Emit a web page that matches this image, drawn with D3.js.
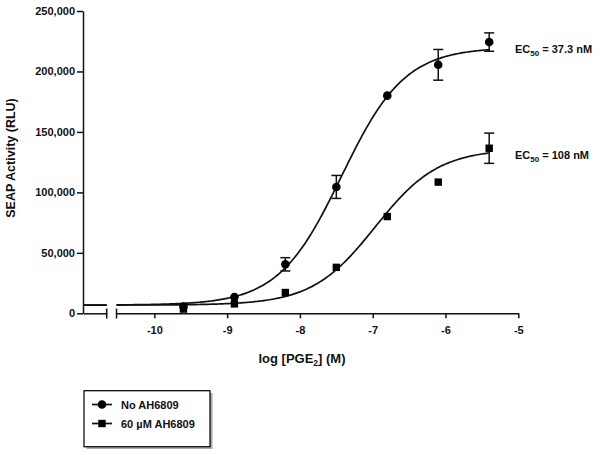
<!DOCTYPE html>
<html>
<head>
<meta charset="utf-8">
<script src="https://cdn.jsdelivr.net/npm/d3@7"></script>
<style>
  body { margin: 0; background: #fff; }
  text { font-family: "Liberation Sans", Arial, sans-serif; font-weight: bold; fill: #111; }
</style>
</head>
<body>
<div id="graph"></div>
<script>
// measured points (log M) and mean SEAP activity
const logDose = [-9.6, -8.9, -8.2, -7.5, -6.8, -6.1, -5.4];
const noAH = [5500, 13500, 40500, 104500, 180000, 205500, 224300];
const noAHErr = [0, 0, 5500, 9500, 0, 12700, 7600];
const withAH = [3500, 7800, 17200, 38000, 80000, 108500, 136500];
const withAHErr = [0, 0, 0, 0, 0, 0, 12500];

// fit parameters (sigmoidal dose-response)
const seriesNames = ["No AH6809", "60 \u00b5M AH6809"];
const fitBottom = [6800, 6800];
const fitTop = [220000, 136000];
const ec50nM = [37.3, 108];
const hillSlope = [1, 1];

const yTicks = [0, 50000, 100000, 150000, 200000, 250000];
const xTicks = [-10, -9, -8, -7, -6, -5];

const width = 600, height = 455;

const svg = d3.select("#graph")
    .append("svg")
        .attr("width", width)
        .attr("height", height);

const x = d3.scaleLinear().domain([-10.52, -5]).range([116.5, 518.3]);
// short stub left of the axis break
const xStub = d3.scaleLinear().domain([-12.3, -11.9]).range([83, 106.7]);
const y = d3.scaleLinear().domain([0, 250000]).range([313.3, 11]);

// y axis
const yAxis = svg.append("g")
    .attr("transform", "translate(83,0)")
    .call(d3.axisLeft(y).tickValues(yTicks).tickFormat(d3.format(",")).tickSize(6).tickSizeOuter(0));
yAxis.selectAll("text").attr("font-size", 11).attr("x", -8).attr("fill", "#111");

// x axis (main part)
const xAxis = svg.append("g")
    .attr("transform", "translate(0,313.3)")
    .call(d3.axisBottom(x).tickValues(xTicks).tickFormat(d => String(d)).tickSize(5).tickSizeOuter(0));
xAxis.selectAll("text").attr("font-size", 11).attr("y", 13).attr("fill", "#111");

// x axis stub
svg.append("g")
    .attr("transform", "translate(0,313.3)")
    .call(d3.axisBottom(xStub).tickValues([]).tickSizeOuter(0));

// break ticks
const breakX = [xStub.range()[1], x.range()[0]];
svg.selectAll(".brk").data(breakX).enter().append("line")
    .attr("x1", d => d).attr("x2", d => d)
    .attr("y1", 308.5).attr("y2", 318.5)
    .attr("stroke", "#111").attr("stroke-width", 1.5);

svg.selectAll(".domain, .tick line").attr("stroke", "#111").attr("stroke-width", 1.5);

// axis titles
const xt = svg.append("text").attr("x", 302).attr("y", 362.5).attr("text-anchor", "middle").attr("font-size", 13);
xt.append("tspan").text("log [PGE");
xt.append("tspan").attr("font-size", 8.5).attr("dy", 3).text("2");
xt.append("tspan").attr("dy", -3).text("] (M)");

svg.append("text")
    .attr("transform", "translate(15,158) rotate(-90)")
    .attr("text-anchor", "middle")
    .attr("font-size", 12.5)
    .text("SEAP Activity (RLU)");

// fitted curves
const logistic = (i, lx) => fitBottom[i] + (fitTop[i] - fitBottom[i]) /
    (1 + Math.pow(10, (Math.log10(ec50nM[i] * 1e-9) - lx) * hillSlope[i]));

const line = d3.line().x(d => d[0]).y(d => d[1]);
const mainGrid = d3.range(x.domain()[0], -5.4 + 1e-6, 0.02);
const stubGrid = d3.range(xStub.domain()[0], xStub.domain()[1] + 1e-6, 0.05);

[0, 1].forEach(i => {
    svg.append("path")
        .attr("d", line(mainGrid.map(lx => [x(lx), y(logistic(i, lx))])))
        .attr("fill", "none").attr("stroke", "#111").attr("stroke-width", 1.7);
    svg.append("path")
        .attr("d", line(stubGrid.map(lx => [xStub(lx), y(logistic(i, lx))])))
        .attr("fill", "none").attr("stroke", "#111").attr("stroke-width", 1.7);
});

// error bars + markers
function drawSeries(vals, errs, shape) {
    const g = svg.append("g");
    const data = logDose.map((d, i) => ({ x: d, v: vals[i], e: errs[i] }));
    const eb = g.selectAll(".eb").data(data.filter(d => d.e > 0)).enter().append("g")
        .attr("stroke", "#111").attr("stroke-width", 1.5);
    eb.append("line").attr("x1", d => x(d.x)).attr("x2", d => x(d.x))
        .attr("y1", d => y(d.v - d.e)).attr("y2", d => y(d.v + d.e));
    eb.append("line").attr("x1", d => x(d.x) - 5).attr("x2", d => x(d.x) + 5)
        .attr("y1", d => y(d.v - d.e)).attr("y2", d => y(d.v - d.e));
    eb.append("line").attr("x1", d => x(d.x) - 5).attr("x2", d => x(d.x) + 5)
        .attr("y1", d => y(d.v + d.e)).attr("y2", d => y(d.v + d.e));
    if (shape === "circle") {
        g.selectAll("circle").data(data).enter().append("circle")
            .attr("cx", d => x(d.x)).attr("cy", d => y(d.v)).attr("r", 4.3).attr("fill", "#000");
    } else {
        g.selectAll("rect").data(data).enter().append("rect")
            .attr("x", d => x(d.x) - 3.7).attr("y", d => y(d.v) - 3.7)
            .attr("width", 7.4).attr("height", 7.4).attr("fill", "#000");
    }
}
drawSeries(noAH, noAHErr, "circle");
drawSeries(withAH, withAHErr, "square");

// EC50 labels
[[37.3, 49], [108, 155]].forEach(([v, ty]) => {
    const t = svg.append("text").attr("x", 515).attr("y", ty + 4).attr("font-size", 11);
    t.append("tspan").text("EC");
    t.append("tspan").attr("font-size", 8).attr("dy", 3).text("50");
    t.append("tspan").attr("dy", -3).text(" = " + v + " nM");
});

// legend
const lg = svg.append("g");
lg.append("rect").attr("x", 86.5).attr("y", 393).attr("width", 126).attr("height", 56).attr("fill", "#aaa");
lg.append("rect").attr("x", 84).attr("y", 390.7).attr("width", 126).attr("height", 56)
    .attr("fill", "#fff").attr("stroke", "#111").attr("stroke-width", 1.3);
seriesNames.forEach((name, i) => {
    const ly = 404.5 + i * 19;
    lg.append("line").attr("x1", 92).attr("x2", 112).attr("y1", ly).attr("y2", ly)
        .attr("stroke", "#111").attr("stroke-width", 1.7);
    if (i === 0) lg.append("circle").attr("cx", 102).attr("cy", ly).attr("r", 4.3).attr("fill", "#000");
    else lg.append("rect").attr("x", 98.3).attr("y", ly - 3.7).attr("width", 7.4).attr("height", 7.4).attr("fill", "#000");
    lg.append("text").attr("x", 121).attr("y", ly + 4).attr("font-size", 11).text(name);
});
</script>
</body>
</html>
